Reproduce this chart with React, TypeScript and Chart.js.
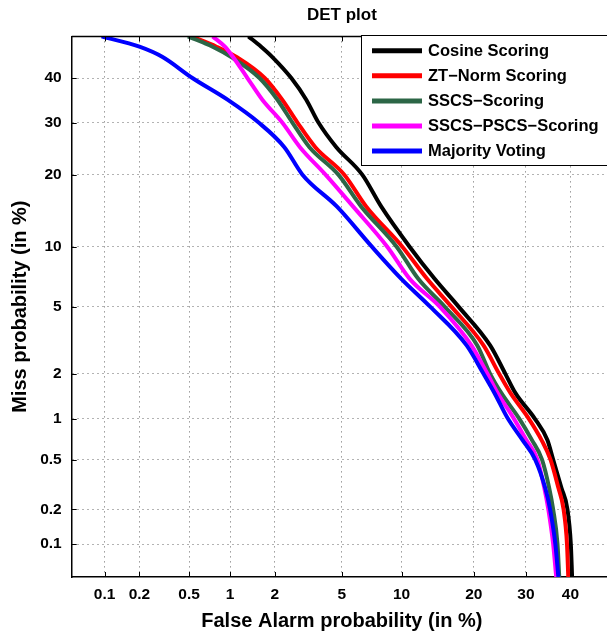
import React, { useEffect, useRef } from "react";
import { Chart, registerables } from "chart.js";

Chart.register(...registerables);

const FONT = '"Liberation Sans", Arial, Helvetica, sans-serif';

// Axis ticks (in %)
const xTicks = [0.1, 0.2, 0.5, 1, 2, 5, 10, 20, 30, 40];
const xTickLabels = ["0.1", "0.2", "0.5", "1", "2", "5", "10", "20", "30", "40"];
const yTicks = [0.1, 0.2, 0.5, 1, 2, 5, 10, 20, 30, 40];
const yTickLabels = ["0.1", "0.2", "0.5", "1", "2", "5", "10", "20", "30", "40"];
const axisMin = 0.05;
const axisMax = 50;

// Miss probability levels (%) at which false alarm (%) was read
const missLevels = [50, 47.5, 45, 40, 35, 30, 25, 20, 15, 10, 7, 5, 3, 2, 1.5, 1, 0.7, 0.5, 0.3, 0.2, 0.1, 0.05];

const seriesLabels = ["Cosine Scoring", "ZT\u2212Norm Scoring", "SSCS\u2212Scoring", "SSCS\u2212PSCS\u2212Scoring", "Majority Voting"];
const seriesColors = ["#000000", "#ff0000", "#2c6646", "#ff00ff", "#0000ff"];

const cosineFA = [1.34, 1.63, 1.93, 2.54, 3.13, 3.69, 4.66, 6.41, 8.0, 10.9, 14.0, 17.5, 22.9, 25.8, 27.8, 31.9, 34.7, 36.0, 37.9, 39.3, 40.1, 40.4];
const ztNormFA = [0.52, 0.8, 1.11, 1.72, 2.23, 2.77, 3.54, 5.15, 6.73, 10.1, 13.0, 16.4, 21.7, 24.6, 26.8, 30.6, 33.4, 35.4, 37.2, 38.4, 39.2, 39.5];
const sscsFA = [0.49, 0.75, 1.02, 1.59, 2.08, 2.58, 3.27, 4.78, 6.34, 9.5, 11.9, 15.4, 20.6, 22.9, 25.0, 28.6, 31.3, 33.5, 35.1, 36.0, 37.0, 37.4];
const sscsPscsFA = [0.75, 0.92, 1.05, 1.32, 1.66, 2.23, 2.87, 4.05, 5.75, 8.57, 10.9, 14.7, 19.6, 22.4, 24.3, 27.5, 30.1, 32.5, 34.0, 34.9, 36.0, 36.7];
const majorityFA = [0.094, 0.2, 0.31, 0.53, 0.96, 1.57, 2.3, 2.97, 4.7, 7.2, 9.97, 13.4, 18.8, 21.7, 23.7, 26.3, 29.3, 32.0, 34.2, 35.3, 36.5, 37.2];

const seriesFA = [cosineFA, ztNormFA, sscsFA, sscsPscsFA, majorityFA];

// Inverse normal CDF (normal deviate scale used by DET plots)
function probit(p: number): number {
  const a = [-3.969683028665376e1, 2.209460984245205e2, -2.759285104469687e2, 1.38357751867269e2, -3.066479806614716e1, 2.506628277459239];
  const b = [-5.447609879822406e1, 1.615858368580409e2, -1.556989798598866e2, 6.680131188771972e1, -1.328068155288572e1];
  const c = [-7.784894002430293e-3, -3.223964580411365e-1, -2.400758277161838, -2.549732539343734, 4.374664141464968, 2.938163982698783];
  const d = [7.784695709041462e-3, 3.224671290700398e-1, 2.445134137142996, 3.754408661907416];
  const pl = 0.02425;
  if (p < pl) {
    const q = Math.sqrt(-2 * Math.log(p));
    return (((((c[0] * q + c[1]) * q + c[2]) * q + c[3]) * q + c[4]) * q + c[5]) / ((((d[0] * q + d[1]) * q + d[2]) * q + d[3]) * q + 1);
  }
  if (p <= 1 - pl) {
    const q = p - 0.5;
    const r = q * q;
    return ((((((a[0] * r + a[1]) * r + a[2]) * r + a[3]) * r + a[4]) * r + a[5]) * q) / (((((b[0] * r + b[1]) * r + b[2]) * r + b[3]) * r + b[4]) * r + 1);
  }
  const q = Math.sqrt(-2 * Math.log(1 - p));
  return -(((((c[0] * q + c[1]) * q + c[2]) * q + c[3]) * q + c[4]) * q + c[5]) / ((((d[0] * q + d[1]) * q + d[2]) * q + d[3]) * q + 1);
}
const pz = (percent: number) => probit(percent / 100);

const framePlugin = {
  id: "detFrame",
  afterDraw(chart: any) {
    const { ctx, chartArea } = chart;
    const { left, right, top, bottom } = chartArea;
    ctx.save();
    ctx.strokeStyle = "#000";
    ctx.lineWidth = 1.5;
    ctx.beginPath();
    ctx.moveTo(left, top);
    ctx.lineTo(right, top);
    ctx.lineTo(right, bottom);
    ctx.stroke();
    ctx.lineWidth = 1;
    ctx.beginPath();
    xTicks.forEach((v) => {
      const px = Math.round(chart.scales.x.getPixelForValue(pz(v))) + 0.5;
      ctx.moveTo(px, bottom);
      ctx.lineTo(px, bottom - 5);
      ctx.moveTo(px, top);
      ctx.lineTo(px, top + 5);
    });
    yTicks.forEach((v) => {
      const py = Math.round(chart.scales.y.getPixelForValue(pz(v))) + 0.5;
      ctx.moveTo(left, py);
      ctx.lineTo(left + 5, py);
      ctx.moveTo(right, py);
      ctx.lineTo(right - 5, py);
    });
    ctx.stroke();

    // legend box (inside axes, top-right)
    const bx = 361.5;
    const by = 35.5;
    const bw = 260;
    const bh = 130;
    ctx.fillStyle = "#fff";
    ctx.fillRect(bx, by, bw, bh);
    ctx.strokeStyle = "#000";
    ctx.lineWidth = 1;
    ctx.strokeRect(bx, by, bw, bh);
    const dsets = chart.data.datasets;
    ctx.font = `bold 16.5px ${FONT}`;
    ctx.textBaseline = "middle";
    ctx.textAlign = "left";
    dsets.forEach((ds: any, i: number) => {
      const y = 50.7 + i * 25.1;
      ctx.strokeStyle = ds.borderColor;
      ctx.lineWidth = 5;
      ctx.beginPath();
      ctx.moveTo(372, y);
      ctx.lineTo(422, y);
      ctx.stroke();
      ctx.fillStyle = "#000";
      ctx.fillText(ds.label, 428, y + 0.5);
    });
    ctx.restore();
  },
};

export default function App() {
  const ref = useRef<HTMLCanvasElement>(null);
  useEffect(() => {
    document.body.style.margin = "0";
    document.body.style.overflow = "hidden";
    document.documentElement.style.overflow = "hidden";
    const canvas = ref.current;
    if (!canvas) return;
    const datasets = seriesLabels.map((label, i) => ({
      label,
      data: seriesFA[i].map((fa, j) => ({ x: pz(fa), y: pz(missLevels[j]) })),
      borderColor: seriesColors[i],
      backgroundColor: seriesColors[i],
      borderWidth: 4,
      pointRadius: 0,
      cubicInterpolationMode: "monotone",
      fill: false,
      clip: 0,
      order: seriesLabels.length - i,
    }));
    const tickFont = { family: FONT, size: 15.5, weight: "bold" as const };
    const chart = new Chart(canvas, {
      type: "line",
      data: { datasets },
      options: {
        animation: false,
        responsive: false,
        layout: { padding: 0 },
        plugins: {
          legend: { display: false },
          tooltip: { enabled: false },
          title: {
            display: true,
            text: "DET plot",
            fullSize: false,
            color: "#000",
            font: { family: FONT, size: 17, weight: "bold" },
            padding: { top: 5, bottom: 11 },
          },
        },
        scales: {
          x: {
            type: "linear",
            min: pz(axisMin),
            max: pz(axisMax),
            afterBuildTicks: (s: any) => {
              s.ticks = xTicks.map((v) => ({ value: pz(v) }));
            },
            afterFit: (s: any) => {
              s.height = 60;
            },
            ticks: {
              autoSkip: false,
              maxRotation: 0,
              padding: 8,
              color: "#000",
              font: tickFont,
              callback: (_v: any, i: number) => xTickLabels[i],
            },
            grid: { color: "rgba(0,0,0,0.6)", lineWidth: 1, drawTicks: false },
            border: { display: true, color: "#000", width: 1.5, dash: [1, 4] },
            title: {
              display: true,
              text: "False Alarm probability (in %)",
              color: "#000",
              font: { family: FONT, size: 20, weight: "bold" },
              padding: { bottom: 4 },
            },
          },
          y: {
            type: "linear",
            min: pz(axisMin),
            max: pz(axisMax),
            afterBuildTicks: (s: any) => {
              s.ticks = yTicks.map((v) => ({ value: pz(v) }));
            },
            afterFit: (s: any) => {
              s.width = 71.7;
            },
            ticks: {
              autoSkip: false,
              padding: 10,
              color: "#000",
              font: tickFont,
              callback: (_v: any, i: number) => yTickLabels[i],
            },
            grid: { color: "rgba(0,0,0,0.6)", lineWidth: 1, drawTicks: false },
            border: { display: true, color: "#000", width: 1.5, dash: [1, 4] },
            title: {
              display: true,
              text: "Miss probability (in %)",
              color: "#000",
              font: { family: FONT, size: 20, weight: "bold" },
              padding: { top: 8 },
            },
          },
        },
      },
      plugins: [framePlugin],
    } as any);
    return () => chart.destroy();
  }, []);
  return <canvas ref={ref} width={612} height={637} style={{ display: "block" }} />;
}
